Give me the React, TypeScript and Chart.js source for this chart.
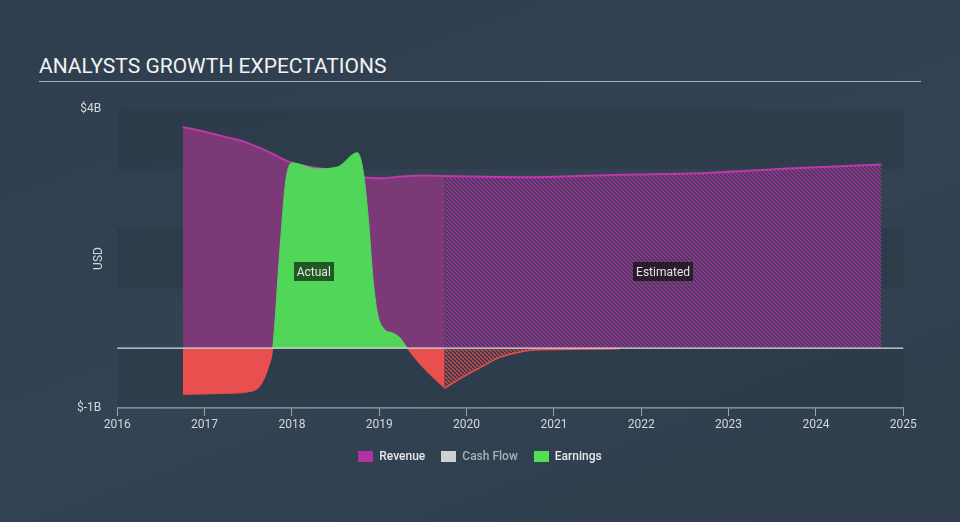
import React, { useEffect, useRef } from 'react';
import { Chart, registerables } from 'chart.js';

Chart.register(...registerables);

// ---- data (USD billions, x in fractional years) ----
const revenueActualX = [2016.75, 2017.0, 2017.25, 2017.5, 2017.75, 2018.0, 2018.25, 2018.5, 2018.75, 2019.0, 2019.25, 2019.5, 2019.75];
const revenueActualY = [3.70, 3.62, 3.53, 3.43, 3.27, 3.10, 3.02, 2.97, 2.87, 2.84, 2.87, 2.89, 2.88];
const revenueEstX = [2019.75, 2020.75, 2021.75, 2022.75, 2023.75, 2024.75];
const revenueEstY = [2.88, 2.86, 2.90, 2.93, 3.01, 3.07];

const earningsActualX = [2016.75, 2017.0, 2017.25, 2017.5, 2017.64, 2017.73, 2017.78, 2017.87, 2017.93, 2018.0, 2018.29, 2018.52, 2018.75, 2018.82, 2018.88, 2018.93, 2018.98, 2019.05, 2019.16, 2019.24, 2019.32, 2019.5, 2019.75];
const earningsActualY = [-0.77, -0.765, -0.755, -0.73, -0.62, -0.32, 0.0, 1.8, 2.8, 3.1, 3.0, 3.03, 3.27, 2.92, 2.08, 1.13, 0.58, 0.33, 0.25, 0.17, 0.0, -0.32, -0.67];
const earningsEstX = [2019.75, 2019.96, 2020.16, 2020.35, 2020.53, 2020.75, 2021.0, 2021.75];
const earningsEstY = [-0.67, -0.48, -0.32, -0.17, -0.09, -0.03, -0.02, -0.01];

const yearMin = 2016;
const yearMax = 2025;
const usdMin = -1;
const usdMax = 4;
const usdLabels: Record<string, string> = { '4': '$4B', '-1': '$-1B' };

const legendItems = [
  { label: 'Revenue', color: '#b2339f', text: '#e6e8ea' },
  { label: 'Cash Flow', color: '#d0d0d0', text: '#a9b0b8' },
  { label: 'Earnings', color: '#52e052', text: '#e6e8ea' },
];

const FONT = 'Roboto, "Noto Sans", "DejaVu Sans", sans-serif';

function pts(xs: number[], ys: number[]) {
  return xs.map((x, i) => ({ x, y: ys[i] }));
}

function makeHatch(bg: string, line: string, lw: number) {
  const s = 4;
  const c = document.createElement('canvas');
  c.width = s;
  c.height = s;
  const g = c.getContext('2d')!;
  g.fillStyle = bg;
  g.fillRect(0, 0, s, s);
  g.strokeStyle = line;
  g.lineWidth = lw;
  g.beginPath();
  for (let k = -1; k <= 1; k++) {
    g.moveTo(k * s, 0);
    g.lineTo(k * s + s, s);
  }
  g.stroke();
  return g.createPattern(c, 'repeat')!;
}

const bandsPlugin = {
  id: 'bands',
  beforeDatasetsDraw(chart: any) {
    const { ctx, chartArea, scales } = chart;
    const y = scales.y;
    ctx.save();
    for (let v = usdMin; v < usdMax; v++) {
      if ((v - usdMin) % 2 === 0) {
        const top = y.getPixelForValue(v + 1);
        const bot = y.getPixelForValue(v);
        ctx.fillStyle = 'rgba(30,40,52,0.2)';
        ctx.fillRect(chartArea.left, top, chartArea.right - chartArea.left, bot - top);
      }
    }
    ctx.restore();
  },
};

const overlayPlugin = {
  id: 'overlay',
  afterDatasetsDraw(chart: any) {
    const { ctx, chartArea, scales } = chart;
    const x = scales.x;
    const y = scales.y;
    const y0 = y.getPixelForValue(0);
    ctx.save();
    ctx.strokeStyle = '#d9dcdf';
    ctx.lineWidth = 1.2;
    ctx.beginPath();
    ctx.moveTo(chartArea.left, y0);
    ctx.lineTo(chartArea.right, y0);
    ctx.stroke();

    const labelY = y.getPixelForValue(1.28);
    const boxes = [
      {
        text: 'Actual',
        cx: x.getPixelForValue((revenueActualX[0] + revenueActualX[revenueActualX.length - 1]) / 2),
        bg: '#1f5a22',
      },
      {
        text: 'Estimated',
        cx: x.getPixelForValue((revenueEstX[0] + revenueEstX[revenueEstX.length - 1]) / 2),
        bg: '#2a1d2b',
      },
    ];
    ctx.font = `12px ${FONT}`;
    ctx.textAlign = 'center';
    ctx.textBaseline = 'middle';
    for (const b of boxes) {
      const w = ctx.measureText(b.text).width + 6;
      const h = 19;
      ctx.fillStyle = b.bg;
      ctx.fillRect(Math.round(b.cx - w / 2), Math.round(labelY - h / 2), Math.round(w), h);
      ctx.fillStyle = '#e4e6e8';
      ctx.fillText(b.text, b.cx, labelY + 1);
    }
    ctx.restore();
  },
};

export default function App() {
  const ref = useRef<HTMLCanvasElement | null>(null);

  useEffect(() => {
    document.body.style.margin = '0';
    const canvas = ref.current!;
    const ctx = canvas.getContext('2d')!;
    const revHatch = makeHatch('#4a3560', '#9a3b93', 1.3);
    const earnHatch = makeHatch('rgba(47,61,77,0.4)', '#d84a4a', 1.3);

    const chart = new Chart(ctx, {
      type: 'line',
      data: {
        datasets: [
          {
            label: 'Earnings',
            data: pts(earningsActualX, earningsActualY),
            order: 1,
            borderColor: '#52d65a',
            borderWidth: 1,
            segment: {
              borderColor: (c: any) => (c.p0.parsed.y < 0 || c.p1.parsed.y < 0 ? '#ea4f4f' : '#52d65a'),
            },
            fill: { target: 'origin', above: '#52d65a', below: '#ea4f4f' },
            pointRadius: 0,
            cubicInterpolationMode: 'monotone',
          },
          {
            label: 'Earnings estimate',
            data: pts(earningsEstX, earningsEstY),
            order: 1,
            borderColor: '#ea4f4f',
            borderWidth: 1.5,
            fill: { target: 'origin', above: earnHatch, below: earnHatch },
            pointRadius: 0,
            cubicInterpolationMode: 'monotone',
          },
          {
            label: 'Revenue',
            data: pts(revenueActualX, revenueActualY),
            order: 2,
            borderColor: '#bd38a8',
            borderWidth: 2,
            backgroundColor: '#7b3a77',
            fill: 'origin',
            pointRadius: 0,
            cubicInterpolationMode: 'monotone',
          },
          {
            label: 'Revenue estimate',
            data: pts(revenueEstX, revenueEstY),
            order: 2,
            borderColor: '#bd38a8',
            borderWidth: 2,
            backgroundColor: revHatch,
            fill: 'origin',
            pointRadius: 0,
            cubicInterpolationMode: 'monotone',
          },
        ],
      },
      options: {
        animation: false,
        responsive: false,
        maintainAspectRatio: false,
        layout: { padding: { left: 0, right: 56.75, top: 109, bottom: 0 } },
        plugins: {
          legend: { display: false },
          tooltip: { enabled: false },
          title: { display: false },
        },
        scales: {
          x: {
            type: 'linear',
            min: yearMin,
            max: yearMax,
            afterFit: (s: any) => {
              s.height = 114;
            },
            afterBuildTicks: (s: any) => {
              const t = [];
              for (let v = yearMin; v <= yearMax; v++) t.push({ value: v });
              s.ticks = t;
            },
            ticks: {
              color: '#d4d8dc',
              font: { family: FONT, size: 12 },
              padding: 2,
              maxRotation: 0,
              autoSkip: false,
              callback: (v: any) => String(v),
            },
            grid: {
              display: true,
              drawOnChartArea: false,
              drawTicks: true,
              tickLength: 8,
              color: '#9aa4ae',
              lineWidth: 1,
            },
            border: { display: true, color: '#9aa4ae', width: 1.5 },
          },
          y: {
            type: 'linear',
            min: usdMin,
            max: usdMax,
            afterFit: (s: any) => {
              s.width = 117.25;
            },
            afterBuildTicks: (s: any) => {
              s.ticks = Object.keys(usdLabels).map((k) => ({ value: Number(k) }));
            },
            ticks: {
              color: '#d4d8dc',
              font: { family: FONT, size: 12 },
              padding: 16,
              callback: (v: any) => usdLabels[String(v)] ?? '',
            },
            grid: { display: false, drawTicks: false },
            border: { display: false },
            title: {
              display: true,
              text: 'USD',
              color: '#d4d8dc',
              font: { family: FONT, size: 12 },
              padding: { top: 92, bottom: 0 },
            },
          },
        },
      },
      plugins: [bandsPlugin, overlayPlugin],
    } as any);
    return () => chart.destroy();
  }, []);

  return (
    <div
      style={{
        position: 'relative',
        width: 960,
        height: 522,
        background: 'linear-gradient(160deg, #2f3e4e 0%, #334353 55%, #2f3d4c 100%)',
        overflow: 'hidden',
        fontFamily: FONT,
      }}
    >
      <div
        style={{
          position: 'absolute',
          left: 39,
          top: 54,
          width: 882,
          color: '#f2f3f4',
          fontSize: 21,
          lineHeight: '25px',
          paddingBottom: 2,
          borderBottom: '1.5px solid #a9afb6',
          letterSpacing: 0,
        }}
      >
        ANALYSTS GROWTH EXPECTATIONS
      </div>
      <canvas ref={ref} width={960} height={522} style={{ position: 'absolute', left: 0, top: 0 }} />
      <div
        style={{
          position: 'absolute',
          top: 449,
          left: 0,
          width: 960,
          display: 'flex',
          justifyContent: 'center',
          gap: 16,
          fontSize: 12,
          fontWeight: 500,
        }}
      >
        {legendItems.map((it) => (
          <div key={it.label} style={{ display: 'flex', alignItems: 'center', gap: 6 }}>
            <span style={{ display: 'inline-block', width: 15, height: 11, background: it.color }} />
            <span style={{ color: it.text, lineHeight: '14px' }}>{it.label}</span>
          </div>
        ))}
      </div>
    </div>
  );
}
